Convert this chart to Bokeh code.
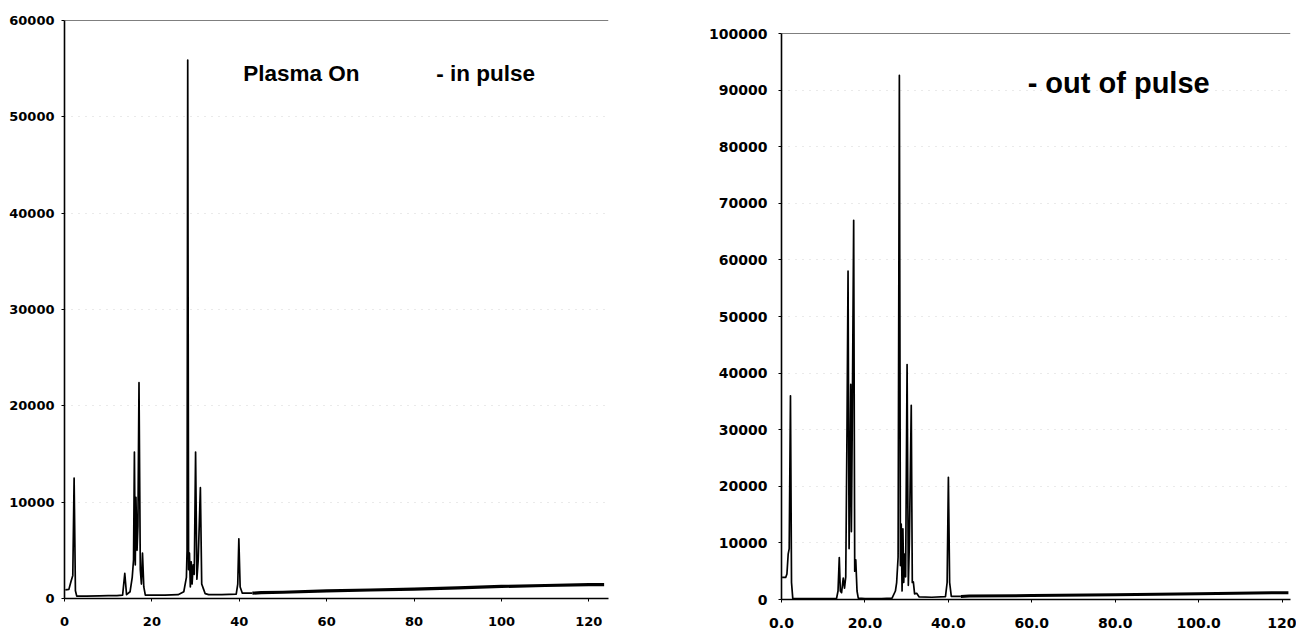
from bokeh.plotting import figure
from bokeh.layouts import row
from bokeh.models import FixedTicker, Span, Range1d
from bokeh.core.properties import value
from bokeh.embed import file_html
from bokeh.resources import INLINE

# ---------------- data: "in pulse" spectrum ----------------
in_x = [0.2, 1.0, 1.5, 1.9, 2.2, 2.5, 2.8, 5.0, 8.0, 10.0, 12.0, 13.3, 13.8, 14.2,
        15.0, 15.5, 15.8, 16.0, 16.2, 16.35, 16.6, 16.8, 17.05, 17.35, 17.6, 17.85, 18.15, 18.5,
        20.0, 23.0, 26.0, 27.3, 27.9, 28.05, 28.2, 28.4, 28.6, 28.8, 29.0, 29.2, 29.45,
        29.7, 30.0, 30.3, 30.6, 31.1, 31.4, 31.8, 32.2, 33.0, 36.0,
        39.3, 39.65, 39.9, 40.2, 40.7, 43.0]
in_y = [900, 950, 1800, 2400, 12500, 800, 250, 250, 280, 300, 300, 350, 2600, 400,
        700, 2200, 4000, 15200, 3500, 10500, 5000, 7500, 22400, 3000, 1500, 4700, 1200, 350,
        350, 350, 400, 700, 2200, 5000, 55900, 3000, 4700, 1200, 3800, 1500, 3500,
        2500, 15200, 2000, 4000, 11500, 1500, 1000, 500, 400, 400,
        450, 1500, 6200, 1200, 550, 550]
in_tail_x = [43.0, 45.0, 50.0, 60.0, 70.0, 80.0, 90.0, 100.0, 110.0, 120.0, 123.5]
in_tail_y = [550, 600, 650, 800, 880, 970, 1100, 1250, 1350, 1450, 1450]

# ---------------- data: "out of pulse" spectrum ----------------
out_x = [0.15, 1.0, 1.3, 1.6, 1.85, 2.15, 2.4, 2.7, 5.0, 10.0, 13.2, 13.55, 13.85, 14.1,
         14.4, 14.8, 15.1, 15.4, 15.7, 15.95, 16.2, 16.45, 16.6, 16.75, 16.95, 17.3, 17.55,
         17.8, 18.1, 18.4, 20.0, 24.0, 26.5, 27.3, 27.6, 27.95, 28.25, 28.5, 28.7, 28.9,
         29.1, 29.3, 29.5, 29.75, 30.1, 30.4, 30.65, 31.1, 31.35, 31.6, 31.9, 32.4, 33.0,
         36.0, 39.3, 39.7, 40.0, 40.3, 40.7, 43.0]
out_y = [3900, 3900, 4500, 8000, 9000, 36000, 3000, 200, 150, 150, 200, 1500, 7400, 1500,
         1200, 3800, 2000, 4000, 30000, 58000, 9000, 25000, 38000, 12000, 30000, 67000, 5000,
         7000, 1500, 250, 150, 150, 250, 1500, 3000, 7500, 92600, 6000, 13300, 1500,
         12500, 3000, 8000, 4000, 41500, 2500, 10000, 34300, 3000, 3100, 1000, 1100, 450,
         400, 500, 3000, 21600, 3000, 550, 550]
out_tail_x = [43.0, 45.0, 60.0, 80.0, 100.0, 120.0, 121.5]
out_tail_y = [550, 600, 700, 850, 1000, 1200, 1200]

# ---------------- ticks / labels ----------------
in_xticks = [0, 20, 40, 60, 80, 100, 120]
in_xtick_labels = ["0", "20", "40", "60", "80", "100", "120"]
in_yticks = [0, 10000, 20000, 30000, 40000, 50000, 60000]
in_ytick_labels = ["0", "10000", "20000", "30000", "40000", "50000", "60000"]

out_xticks = [0, 20, 40, 60, 80, 100, 120]
out_xtick_labels = ["0.0", "20.0", "40.0", "60.0", "80.0", "100.0", "120"]
out_yticks = [0, 10000, 20000, 30000, 40000, 50000, 60000, 70000, 80000, 90000, 100000]
out_ytick_labels = ["0", "10000", "20000", "30000", "40000", "50000", "60000",
                    "70000", "80000", "90000", "100000"]

in_notes = ["Plasma On", "- in pulse"]
in_notes_x = [40.9, 85.1]
in_notes_y = [54500, 54500]
out_notes = ["- out of pulse"]
out_notes_x = [59.0]
out_notes_y = [91250]

TICK_FONT = "DejaVu Sans"
NOTE_FONT = "Liberation Sans"


def make_fig(width, height, mb, xmax, ymax, xticks, xlabels, yticks, ylabels,
             tick_size, ystandoff, xstandoff):
    p = figure(width=width, height=height, output_backend="svg", toolbar_location=None,
               x_range=Range1d(0, xmax), y_range=Range1d(0, ymax),
               min_border_left=mb[0], min_border_right=mb[1],
               min_border_top=mb[2], min_border_bottom=mb[3])
    p.frame_align = False
    p.outline_line_color = None
    p.background_fill_color = "white"
    p.border_fill_color = "white"
    p.xgrid.grid_line_color = None
    p.ygrid.ticker = FixedTicker(ticks=yticks)
    p.ygrid.grid_line_color = "#d4d4d4"
    p.ygrid.grid_line_dash = "1 6"
    for ax, ticks, labels, standoff in ((p.xaxis[0], xticks, xlabels, xstandoff),
                                        (p.yaxis[0], yticks, ylabels, ystandoff)):
        ax.ticker = FixedTicker(ticks=ticks)
        ax.major_label_overrides = {t: l for t, l in zip(ticks, labels)}
        ax.major_label_text_font = TICK_FONT
        ax.major_label_text_font_style = "bold"
        ax.major_label_text_font_size = tick_size
        ax.major_label_text_color = "black"
        ax.axis_line_color = "black"
        ax.axis_line_width = 1.6
        ax.major_tick_line_color = "black"
        ax.major_tick_out = 3
        ax.major_tick_in = 0
        ax.minor_tick_line_color = None
        ax.major_label_standoff = standoff
    p.add_layout(Span(location=ymax, dimension="width", line_color="black", line_width=1.2))
    return p


# left chart: frame x 64..608, y 20..598
p1 = make_fig(700, 634, (64, 92, 20, 36), 124.5, 60000,
              in_xticks, in_xtick_labels, in_yticks, in_ytick_labels,
              "13px", 7, 15)
p1.line(in_x, in_y, line_color="black", line_width=1.7, line_join="round")
p1.line(in_tail_x, in_tail_y, line_color="black", line_width=3.2, line_join="round")
p1.text(x=in_notes_x, y=in_notes_y, text=in_notes, text_font=value(NOTE_FONT),
        text_font_style="bold", text_font_size="22.5px", text_color="black",
        text_align="left", text_baseline="alphabetic")

# right chart: frame x 781..1290, y 33..599
p2 = make_fig(596, 634, (81, 6, 33, 35), 122, 100000,
              out_xticks, out_xtick_labels, out_yticks, out_ytick_labels,
              "14px", 11, 15)
p2.line(out_x, out_y, line_color="black", line_width=1.7, line_join="round")
p2.line(out_tail_x, out_tail_y, line_color="black", line_width=3.0, line_join="round")
p2.text(x=out_notes_x, y=out_notes_y, text=out_notes, text_font=value(NOTE_FONT),
        text_font_style="bold", text_font_size="29px", text_color="black",
        text_align="left", text_baseline="alphabetic")

layout = row(p1, p2)
open("out.html", "w").write(file_html(layout, INLINE))
